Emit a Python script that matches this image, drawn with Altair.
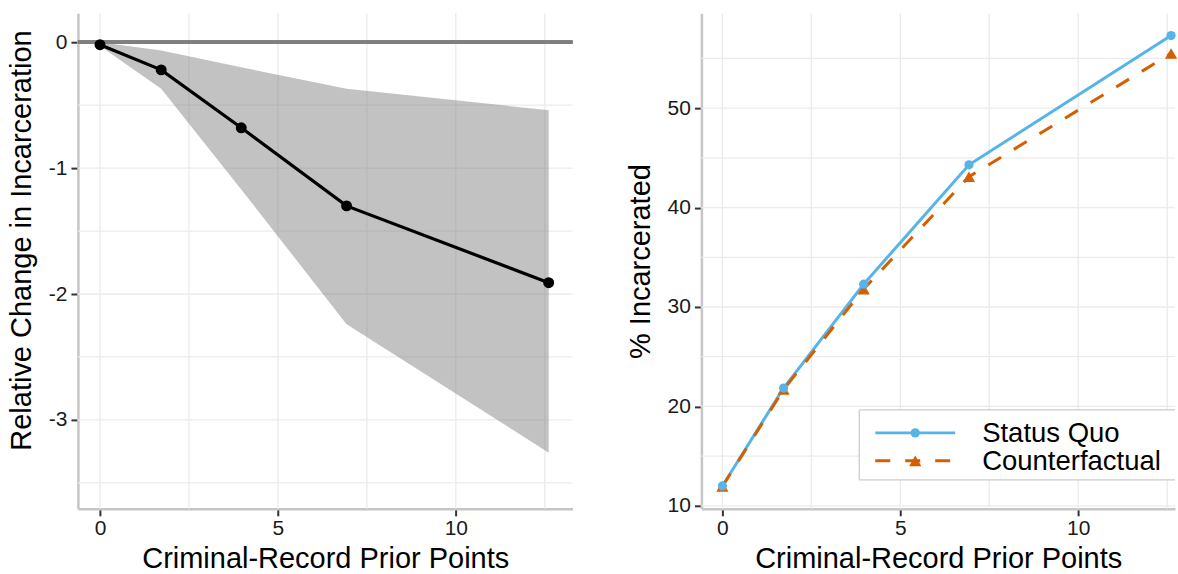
import altair as alt
import pandas as pd

# ---------------- data ----------------
prior_points = [0, 1.72, 3.97, 6.93, 12.61]
rel_change = [-0.02, -0.22, -0.68, -1.30, -1.91]
ci_upper = [0.0, -0.066, -0.20, -0.37, -0.54]
ci_lower = [-0.03, -0.37, -1.17, -2.24, -3.26]

status_quo = [12.0, 21.85, 32.3, 44.3, 57.3]
counterfactual = [11.95, 21.7, 31.8, 43.1, 55.5]
series_names = ["Status Quo", "Counterfactual"]
series_colors = ["#56B4E9", "#D55E00"]

x_ticks = [0, 5, 10]
x_grid = [0, 2.5, 5, 7.5, 10, 12.5]
left_y_ticks = [0, -1, -2, -3]
left_y_grid = [0, -0.5, -1, -1.5, -2, -2.5, -3, -3.5]
right_y_ticks = [10, 20, 30, 40, 50]
right_y_grid = [10, 15, 20, 25, 30, 35, 40, 45, 50, 55]

x_title = "Criminal-Record Prior Points"
left_y_title = "Relative Change in Incarceration"
right_y_title = "% Incarcerated"

FONT = "Liberation Sans"
LABEL_EXPR = "'' + datum.value"

left_df = pd.DataFrame({"x": prior_points, "y": rel_change, "lo": ci_lower, "hi": ci_upper})
right_df = pd.DataFrame({
    "x": prior_points * 2,
    "y": status_quo + counterfactual,
    "series": [series_names[0]] * len(prior_points) + [series_names[1]] * len(prior_points),
})

# ---------------- left panel ----------------
LW, H = 495, 496
lx = alt.Scale(domain=[-0.62, 13.28], nice=False, zero=False)
ly = alt.Scale(domain=[-3.706, 0.23], nice=False, zero=False)

gx_l = alt.Chart(pd.DataFrame({"g": x_grid})).mark_rule(color="#EBEBEB", strokeWidth=1.3).encode(
    x=alt.X("g:Q", scale=lx, axis=alt.Axis(values=x_ticks, title=x_title, labelExpr=LABEL_EXPR)))
gy_l = alt.Chart(pd.DataFrame({"g": left_y_grid})).mark_rule(color="#EBEBEB", strokeWidth=1.3).encode(
    y=alt.Y("g:Q", scale=ly, axis=alt.Axis(values=left_y_ticks, title=left_y_title,
                                           labelExpr=LABEL_EXPR, titleY=227)))

base_l = alt.Chart(left_df)
band = base_l.mark_area(color="#7F7F7F", opacity=0.48, clip=True).encode(
    x=alt.X("x:Q", scale=lx), y=alt.Y("lo:Q", scale=ly), y2="hi:Q")
zero_line = base_l.mark_rule(color="#7F7F7F", strokeWidth=3.3).encode(
    y=alt.Y(datum=0, scale=ly))
est_line = base_l.mark_line(color="black", strokeWidth=3.2).encode(
    x=alt.X("x:Q", scale=lx), y=alt.Y("y:Q", scale=ly))
est_pts = base_l.mark_point(filled=True, color="black", size=120, opacity=1).encode(
    x=alt.X("x:Q", scale=lx), y=alt.Y("y:Q", scale=ly))

left = alt.layer(gx_l, gy_l, band, zero_line, est_line, est_pts).properties(width=LW, height=H)

# ---------------- right panel ----------------
RW = 474
rx = alt.Scale(domain=[-0.59, 12.72], nice=False, zero=False)
ry = alt.Scale(domain=[9.7, 59.55], nice=False, zero=False)
col = alt.Scale(domain=series_names, range=series_colors)

gx_r = alt.Chart(pd.DataFrame({"g": x_grid})).mark_rule(color="#EBEBEB", strokeWidth=1.3).encode(
    x=alt.X("g:Q", scale=rx, axis=alt.Axis(values=x_ticks, title=x_title, labelExpr=LABEL_EXPR)))
gy_r = alt.Chart(pd.DataFrame({"g": right_y_grid})).mark_rule(color="#EBEBEB", strokeWidth=1.3).encode(
    y=alt.Y("g:Q", scale=ry, axis=alt.Axis(values=right_y_ticks, title=right_y_title, labelExpr=LABEL_EXPR)))

base_r = alt.Chart(right_df)
sq = base_r.transform_filter(alt.datum.series == series_names[0])
cf = base_r.transform_filter(alt.datum.series == series_names[1])
enc = dict(x=alt.X("x:Q", scale=rx), y=alt.Y("y:Q", scale=ry),
           color=alt.Color("series:N", scale=col, legend=None))

sq_line = sq.mark_line(strokeWidth=3, clip=True).encode(**enc)
cf_line = cf.mark_line(strokeWidth=3, strokeDash=[15, 15], clip=True).encode(**enc)
cf_pts = cf.mark_point(shape="triangle-up", filled=True, size=150, opacity=1).encode(**enc)
sq_pts = sq.mark_point(shape="circle", filled=True, size=85, opacity=1).encode(**enc)

# manual legend (pixel positions inside the right plot area)
box_x, box_y1, box_y2 = 158, 397, 467
row_y = [420, 448]
one = pd.DataFrame({"k": [0]})
leg = [
    alt.Chart(one).mark_rect(color="white").encode(
        x=alt.value(box_x), x2=alt.value(RW), y=alt.value(box_y1), y2=alt.value(box_y2)),
    alt.Chart(one).mark_rule(color="#CCCCCC", strokeWidth=1.3).encode(
        x=alt.value(box_x), x2=alt.value(RW), y=alt.value(box_y1)),
    alt.Chart(one).mark_rule(color="#CCCCCC", strokeWidth=1.3).encode(
        x=alt.value(box_x), x2=alt.value(RW), y=alt.value(box_y2)),
    alt.Chart(one).mark_rule(color="#CCCCCC", strokeWidth=1.3).encode(
        x=alt.value(box_x), y=alt.value(box_y1), y2=alt.value(box_y2)),
    alt.Chart(one).mark_rule(color=series_colors[0], strokeWidth=3).encode(
        x=alt.value(174), x2=alt.value(254), y=alt.value(row_y[0])),
    alt.Chart(one).mark_point(color=series_colors[0], filled=True, size=85, opacity=1).encode(
        x=alt.value(214), y=alt.value(row_y[0])),
    alt.Chart(one).mark_rule(color=series_colors[1], strokeWidth=3, strokeDash=[15, 15]).encode(
        x=alt.value(174), x2=alt.value(254), y=alt.value(row_y[1])),
    alt.Chart(one).mark_point(color=series_colors[1], shape="triangle-up", filled=True, size=150,
                              opacity=1).encode(x=alt.value(214), y=alt.value(row_y[1])),
]
for name, yy in zip(series_names, row_y):
    leg.append(alt.Chart(pd.DataFrame({"label": [name]})).mark_text(
        font=FONT, fontSize=27.5, align="left", baseline="middle", color="black").encode(
        x=alt.value(281), y=alt.value(yy + 1), text="label:N"))

right = alt.layer(gx_r, gy_r, sq_line, cf_line, cf_pts, sq_pts, *leg).properties(width=RW, height=H)

chart = alt.hconcat(left, right, spacing=51).properties(
    padding={"left": 7, "top": 12, "right": 0, "bottom": 0}, background="white"
).configure_view(strokeWidth=0).configure_axis(
    grid=False,
    domainColor="#C6C6C6", domainWidth=2.5,
    tickColor="#333333", tickWidth=2, tickSize=7,
    labelFont=FONT, labelFontSize=21, labelColor="#1a1a1a",
    labelFlush=False, labelOverlap=False,
    titleFont=FONT, titleFontSize=29, titleFontWeight="normal", titleColor="#000000",
).configure_axisX(labelPadding=2, titlePadding=6).configure_axisY(labelPadding=4, titlePadding=12)

chart.save("out.html", embed_options={"renderer": "svg", "actions": False})
